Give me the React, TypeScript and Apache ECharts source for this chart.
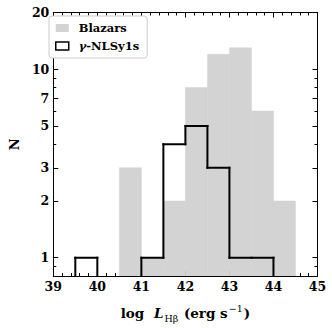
import React, { useEffect, useRef } from "react";
import * as echarts from "echarts";

// Histogram bins (log L_Hβ), width 0.5
const binStarts = [39, 39.5, 40, 40.5, 41, 41.5, 42, 42.5, 43, 43.5, 44, 44.5];
const binEnds = [39.5, 40, 40.5, 41, 41.5, 42, 42.5, 43, 43.5, 44, 44.5, 45];
const blazarCounts = [0, 0, 0, 3, 1, 2, 8, 12, 13, 6, 2, 0];
const nlsy1Counts = [0, 1, 0, 0, 1, 4, 5, 3, 1, 1, 0, 0];

const yMajorTicks = [1, 2, 3, 5, 7, 10, 20];
const yMinorTicks = [0.9, 4, 6, 8, 9];
const Y_MIN = 0.8;
const Y_MAX = 20;
const X_MIN = 39;
const X_MAX = 45;

const SERIF = "DejaVu Serif";
const GRAY = "#d3d3d3";

export default function App() {
  const ref = useRef<HTMLDivElement>(null);
  useEffect(() => {
    if (!ref.current) return;
    const chart = echarts.init(ref.current, undefined, { renderer: "svg" });

    const blazarData = binStarts.map((s, i) => [s, binEnds[i], blazarCounts[i]]);
    const nlsyData = binStarts.map((s, i) => [
      s,
      binEnds[i],
      nlsy1Counts[i],
      i > 0 ? nlsy1Counts[i - 1] : 0,
    ]);

    const labelStyle = {
      fontFamily: SERIF,
      fontWeight: "bold" as const,
      fontSize: 12.5,
      color: "#000",
    };

    const xBase = (pos: "bottom" | "top", labels: boolean) => ({
      type: "value" as const,
      position: pos,
      min: X_MIN,
      max: X_MAX,
      interval: 1,
      axisLine: { show: true, onZero: false, lineStyle: { color: "#000", width: 1 } },
      axisTick: { show: true, inside: true, length: 5, lineStyle: { color: "#000", width: 1 } },
      minorTick: { show: true, splitNumber: 5, length: 3, lineStyle: { color: "#000", width: 1 } },
      axisLabel: { show: labels, margin: 4, ...labelStyle },
      splitLine: { show: false },
      minorSplitLine: { show: false },
    });

    const yBase = (pos: "left" | "right", major: boolean, labels: boolean) => ({
      type: "log" as const,
      logBase: 10,
      position: pos,
      min: Y_MIN,
      max: Y_MAX,
      axisLine: { show: major, onZero: false, lineStyle: { color: "#000", width: 1 } },
      axisTick: {
        show: true,
        inside: true,
        length: major ? 5 : 3,
        customValues: major ? yMajorTicks : yMinorTicks,
        lineStyle: { color: "#000", width: 1 },
      },
      axisLabel: {
        show: labels,
        margin: 4,
        customValues: yMajorTicks,
        formatter: (v: number) => String(Math.round(v)),
        ...labelStyle,
      },
      splitLine: { show: false },
      minorTick: { show: false },
      minorSplitLine: { show: false },
    });

    const xAxisMain: any = xBase("bottom", true);
    xAxisMain.name = "{n|log}  {L|L}{sub|Hβ}{n| (erg s}{sup|−1}{n|)}";
    xAxisMain.nameLocation = "middle";
    xAxisMain.nameGap = 27;
    xAxisMain.nameTextStyle = {
      rich: {
        n: { fontFamily: SERIF, fontWeight: "bold", fontSize: 13.5, color: "#000", lineHeight: 20 },
        L: { fontFamily: SERIF, fontWeight: "bold", fontStyle: "italic", fontSize: 13.5, color: "#000", lineHeight: 20, padding: [0, 0, 0, 3] },
        sub: { fontFamily: SERIF, fontSize: 9.5, color: "#000", lineHeight: 14, verticalAlign: "bottom", padding: [0, 1, 0, 1] },
        sup: { fontFamily: SERIF, fontSize: 9.5, color: "#000", lineHeight: 12, verticalAlign: "top", padding: [0, 1, 0, 1] },
      },
    };

    const yAxisMain: any = yBase("left", true, true);
    yAxisMain.name = "N";
    yAxisMain.nameLocation = "middle";
    yAxisMain.nameGap = 29;
    yAxisMain.nameTextStyle = { fontFamily: SERIF, fontWeight: "bold", fontSize: 13, color: "#000" };

    chart.setOption({
      animation: false,
      backgroundColor: "#fff",
      grid: { left: 43.5, right: 14.5, top: 12.5, bottom: 44, containLabel: false },
      legend: {
        orient: "vertical",
        left: 49,
        top: 16,
        padding: [5, 8, 5, 6],
        itemGap: 4,
        itemWidth: 13,
        itemHeight: 8,
        icon: "rect",
        backgroundColor: "#fff",
        borderColor: "#cccccc",
        borderWidth: 1,
        borderRadius: 3,
        textStyle: {
          fontFamily: SERIF,
          fontWeight: "bold",
          fontSize: 11.5,
          color: "#000",
          lineHeight: 14,
          padding: [0, 0, 0, 5],
          rich: {
            g: { fontFamily: SERIF, fontWeight: "bold", fontStyle: "italic", fontSize: 11.5, color: "#000", lineHeight: 14 },
            t: { fontFamily: SERIF, fontWeight: "bold", fontSize: 11.5, color: "#000", lineHeight: 14 },
          },
        },
        formatter: (name: string) =>
          name === "γ-NLSy1s" ? "{g|γ}{t|-NLSy1s}" : "{t|" + name + "}",
        data: [
          { name: "Blazars", itemStyle: { color: GRAY, borderWidth: 0 } },
          { name: "γ-NLSy1s", itemStyle: { color: "#fff", borderColor: "#000", borderWidth: 1.5 } },
        ],
      },
      xAxis: [xAxisMain, xBase("top", false)],
      yAxis: [
        yAxisMain,
        yBase("left", false, false),
        yBase("right", true, false),
        yBase("right", false, false),
      ],
      series: [
        {
          name: "Blazars",
          type: "custom",
          xAxisIndex: 0,
          yAxisIndex: 0,
          clip: true,
          itemStyle: { color: GRAY },
          encode: { x: [0, 1], y: 2 },
          data: blazarData,
          renderItem: (params: any, api: any) => {
            const x0 = api.value(0);
            const x1 = api.value(1);
            const c = api.value(2);
            if (!(c > 0)) return null;
            const p1 = api.coord([x0, c]);
            const p2 = api.coord([x1, Y_MIN]);
            return {
              type: "rect",
              shape: { x: p1[0], y: p1[1], width: p2[0] - p1[0], height: p2[1] - p1[1] },
              style: { fill: GRAY, stroke: GRAY, lineWidth: 0.5 },
            };
          },
          z: 1,
        },
        {
          name: "γ-NLSy1s",
          type: "custom",
          xAxisIndex: 0,
          yAxisIndex: 0,
          clip: true,
          itemStyle: { color: "#000" },
          encode: { x: [0, 1], y: 2 },
          data: nlsyData,
          renderItem: (params: any, api: any) => {
            const x0 = api.value(0);
            const x1 = api.value(1);
            const c = api.value(2);
            const prev = api.value(3);
            const children: any[] = [];
            const lineStyle = { stroke: "#000", lineWidth: 2, lineCap: "square" };
            const yc = c > 0 ? c : Y_MIN;
            const yp = prev > 0 ? prev : Y_MIN;
            if (c > 0) {
              const a = api.coord([x0, c]);
              const b = api.coord([x1, c]);
              children.push({ type: "line", shape: { x1: a[0], y1: a[1], x2: b[0], y2: b[1] }, style: lineStyle });
            }
            if (c !== prev) {
              const a = api.coord([x0, yp]);
              const b = api.coord([x0, yc]);
              children.push({ type: "line", shape: { x1: a[0], y1: a[1], x2: b[0], y2: b[1] }, style: lineStyle });
            }
            return { type: "group", children };
          },
          z: 3,
        },
      ],
    });
    return () => chart.dispose();
  }, []);
  return (
    <div
      ref={ref}
      style={{ position: "absolute", left: 0, top: 0, width: 332, height: 328 }}
    />
  );
}
